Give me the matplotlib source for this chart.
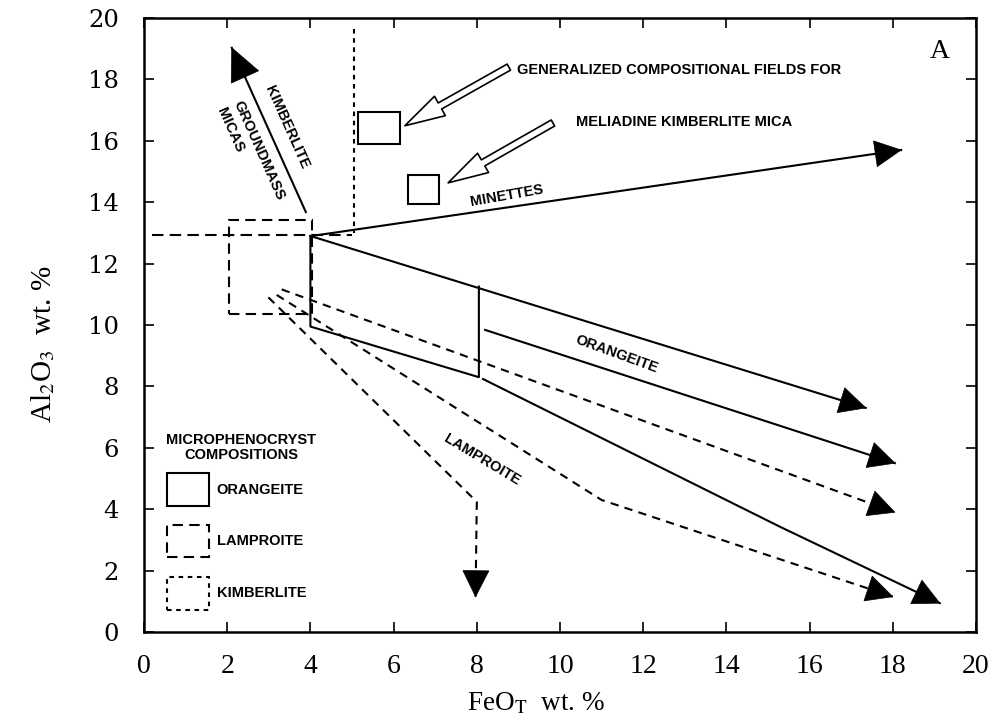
import matplotlib
matplotlib.use("Agg")
import numpy as np
import matplotlib.pyplot as plt
from matplotlib.patches import FancyArrowPatch, Rectangle, ArrowStyle, Polygon

# ---------------- data ----------------
x_ticks = [0, 2, 4, 6, 8, 10, 12, 14, 16, 18, 20]
y_ticks = [0, 2, 4, 6, 8, 10, 12, 14, 16, 18, 20]

# kimberlite groundmass mica trend
kimb_arrow_x = [3.89, 2.11]
kimb_arrow_y = [13.68, 19.03]
# kimberlite field boundaries
kimb_h_x = [0.2, 5.0]
kimb_h_y = [12.92, 12.92]
kimb_v_x = [5.05, 5.05]
kimb_v_y = [19.65, 13.0]

# lamproite microphenocryst box
lamp_box_x = [2.05, 4.03]
lamp_box_y = [10.36, 13.42]

# orangeite microphenocryst polygon
orang_poly_x = [4.0, 4.0, 8.05, 8.05]
orang_poly_y = [12.9, 9.95, 8.3, 11.25]

# minette trend
minette_x = [4.03, 18.2]
minette_y = [12.9, 15.7]

# orangeite trends
orang1_x = [4.0, 17.35]
orang1_y = [12.9, 7.3]
orang2_x = [8.2, 18.05]
orang2_y = [9.84, 5.5]
orang3_x = [8.15, 15.3, 19.13]
orang3_y = [8.24, 3.42, 0.94]

# lamproite trends
lamp1_x = [3.31, 18.05]
lamp1_y = [11.16, 3.9]
lamp2_x = [3.19, 11.0, 18.0]
lamp2_y = [10.98, 4.3, 1.15]
lamp3_x = [2.99, 8.0, 7.97]
lamp3_y = [10.9, 4.24, 1.15]

# Meliadine kimberlite mica fields
mel_box1_x = [5.15, 6.15]
mel_box1_y = [15.9, 16.95]
mel_box2_x = [6.35, 7.1]
mel_box2_y = [13.95, 14.9]

# open pointer arrows (tail -> tip)
ptr1_x = [8.77, 6.27]
ptr1_y = [18.4, 16.49]
ptr2_x = [9.83, 7.31]
ptr2_y = [16.58, 14.63]

# legend boxes
leg_box_x = [0.55, 1.56]
leg_orang_y = [4.1, 5.18]
leg_lamp_y = [2.44, 3.49]
leg_kimb_y = [0.72, 1.79]

# ---------------- styling ----------------
plt.rcParams['mathtext.fontset'] = 'stix'
SERIF = ['Liberation Serif', 'DejaVu Serif']
ANN = ['Liberation Sans Narrow', 'Liberation Sans', 'DejaVu Sans']
FS = 10.5
LW = 1.5
DASH = (0, (5, 3))
DOT = (0, (2.2, 2.2))
HDASH = (0, (5.5, 3))

fig = plt.figure(figsize=(9.94, 7.27), dpi=100)
ax = fig.add_axes([144 / 994, 1 - 632 / 727, 832 / 994, 614 / 727])
ax.set_xlim(0, 20)
ax.set_ylim(0, 20)
ax.set_xticks(x_ticks)
ax.set_yticks(y_ticks)
ax.set_xticklabels([str(t) for t in x_ticks], fontfamily=SERIF, fontsize=20)
ax.set_yticklabels([str(t) for t in y_ticks], fontfamily=['DejaVu Serif'], fontsize=17.5)
ax.tick_params(direction='in', length=7, width=1.2, top=True, right=True)
ax.tick_params(axis='x', pad=16)
ax.tick_params(axis='y', pad=18)
for s in ax.spines.values():
    s.set_linewidth(1.8)

ax.set_xlabel(r'FeO$_\mathrm{T}$  wt. %', fontfamily=SERIF, fontsize=19.5)
ax.set_ylabel(r'Al$_2$O$_3$  wt. %', fontfamily=SERIF, fontsize=21)
ax.xaxis.set_label_coords(0.471, -0.095)
ax.yaxis.set_label_coords(-0.105, 0.469)


def head(xs, ys, L=26, W=26):
    """Filled triangular head (pixel size L x W) at the end of a polyline."""
    tr = ax.transData
    p1 = tr.transform((xs[-1], ys[-1]))
    p0 = tr.transform((xs[-2], ys[-2]))
    u = (p1 - p0) / np.hypot(*(p1 - p0))
    n = np.array([-u[1], u[0]])
    base = p1 - L * u
    pts = np.array([p1, base + n * W / 2, base - n * W / 2])
    ax.add_patch(Polygon(tr.inverted().transform(pts), closed=True,
                         fc='k', ec='k', lw=0.5, zorder=5))


def rect(xr, yr, ls):
    ax.add_patch(Rectangle((xr[0], yr[0]), xr[1] - xr[0], yr[1] - yr[0],
                           fill=False, ec='k', lw=LW, ls=ls, zorder=3))


# kimberlite
ax.plot(kimb_arrow_x, kimb_arrow_y, color='k', lw=LW)
head(kimb_arrow_x, kimb_arrow_y, L=32, W=30)
ax.plot(kimb_h_x, kimb_h_y, color='k', lw=LW, ls=HDASH)
ax.plot(kimb_v_x, kimb_v_y, color='k', lw=LW, ls=DOT)

# lamproite box
rect(lamp_box_x, lamp_box_y, DASH)

# orangeite polygon
ax.plot(orang_poly_x, orang_poly_y, color='k', lw=LW)

# minettes
ax.plot(minette_x, minette_y, color='k', lw=LW)
head(minette_x, minette_y)

# orangeite trends
for xs, ys in [(orang1_x, orang1_y), (orang2_x, orang2_y), (orang3_x, orang3_y)]:
    ax.plot(xs, ys, color='k', lw=LW)
    head(xs, ys)

# lamproite trends
for xs, ys in [(lamp1_x, lamp1_y), (lamp2_x, lamp2_y), (lamp3_x, lamp3_y)]:
    ax.plot(xs, ys, color='k', lw=LW, ls=(0, (4, 3)))
    head(xs, ys)

# Meliadine boxes
rect(mel_box1_x, mel_box1_y, '-')
rect(mel_box2_x, mel_box2_y, '-')

# open pointer arrows
for xs, ys in [(ptr1_x, ptr1_y), (ptr2_x, ptr2_y)]:
    ax.add_patch(FancyArrowPatch((xs[0], ys[0]), (xs[1], ys[1]),
                                 arrowstyle=ArrowStyle('simple', head_length=2.9,
                                                       head_width=1.6, tail_width=0.5),
                                 mutation_scale=10, fc='white', ec='k', lw=1.2,
                                 shrinkA=0, shrinkB=0, zorder=4))

# annotations
kw = dict(fontfamily=ANN, fontweight='bold', fontsize=FS, color='k')
ax.text(8.97, 18.3, 'GENERALIZED COMPOSITIONAL FIELDS FOR', ha='left', va='center', **kw)
ax.text(10.38, 16.6, 'MELIADINE KIMBERLITE MICA', ha='left', va='center', **kw)
ax.text(8.73, 14.2, 'MINETTES', ha='center', va='center', rotation=10, **kw)
ax.text(3.44, 16.45, 'KIMBERLITE', ha='center', va='center', rotation=-66, **kw)
ax.text(2.77, 15.68, 'GROUNDMASS', ha='center', va='center', rotation=-66, **kw)
ax.text(2.07, 16.35, 'MICAS', ha='center', va='center', rotation=-66, **kw)
ax.text(11.37, 9.05, 'ORANGEITE', ha='center', va='center', rotation=-20, **kw)
ax.text(8.12, 5.6, 'LAMPROITE', ha='center', va='center', rotation=-31, **kw)
ax.text(19.13, 18.9, 'A', ha='center', va='center', fontfamily=SERIF, fontsize=20)

# legend
ax.text(2.33, 6.25, 'MICROPHENOCRYST', ha='center', va='center', **kw)
ax.text(2.33, 5.77, 'COMPOSITIONS', ha='center', va='center', **kw)
rect(leg_box_x, leg_orang_y, '-')
rect(leg_box_x, leg_lamp_y, DASH)
rect(leg_box_x, leg_kimb_y, DOT)
ax.text(1.75, sum(leg_orang_y) / 2, 'ORANGEITE', ha='left', va='center', **kw)
ax.text(1.75, sum(leg_lamp_y) / 2, 'LAMPROITE', ha='left', va='center', **kw)
ax.text(1.75, sum(leg_kimb_y) / 2, 'KIMBERLITE', ha='left', va='center', **kw)

fig.savefig('out.png', dpi=100)
